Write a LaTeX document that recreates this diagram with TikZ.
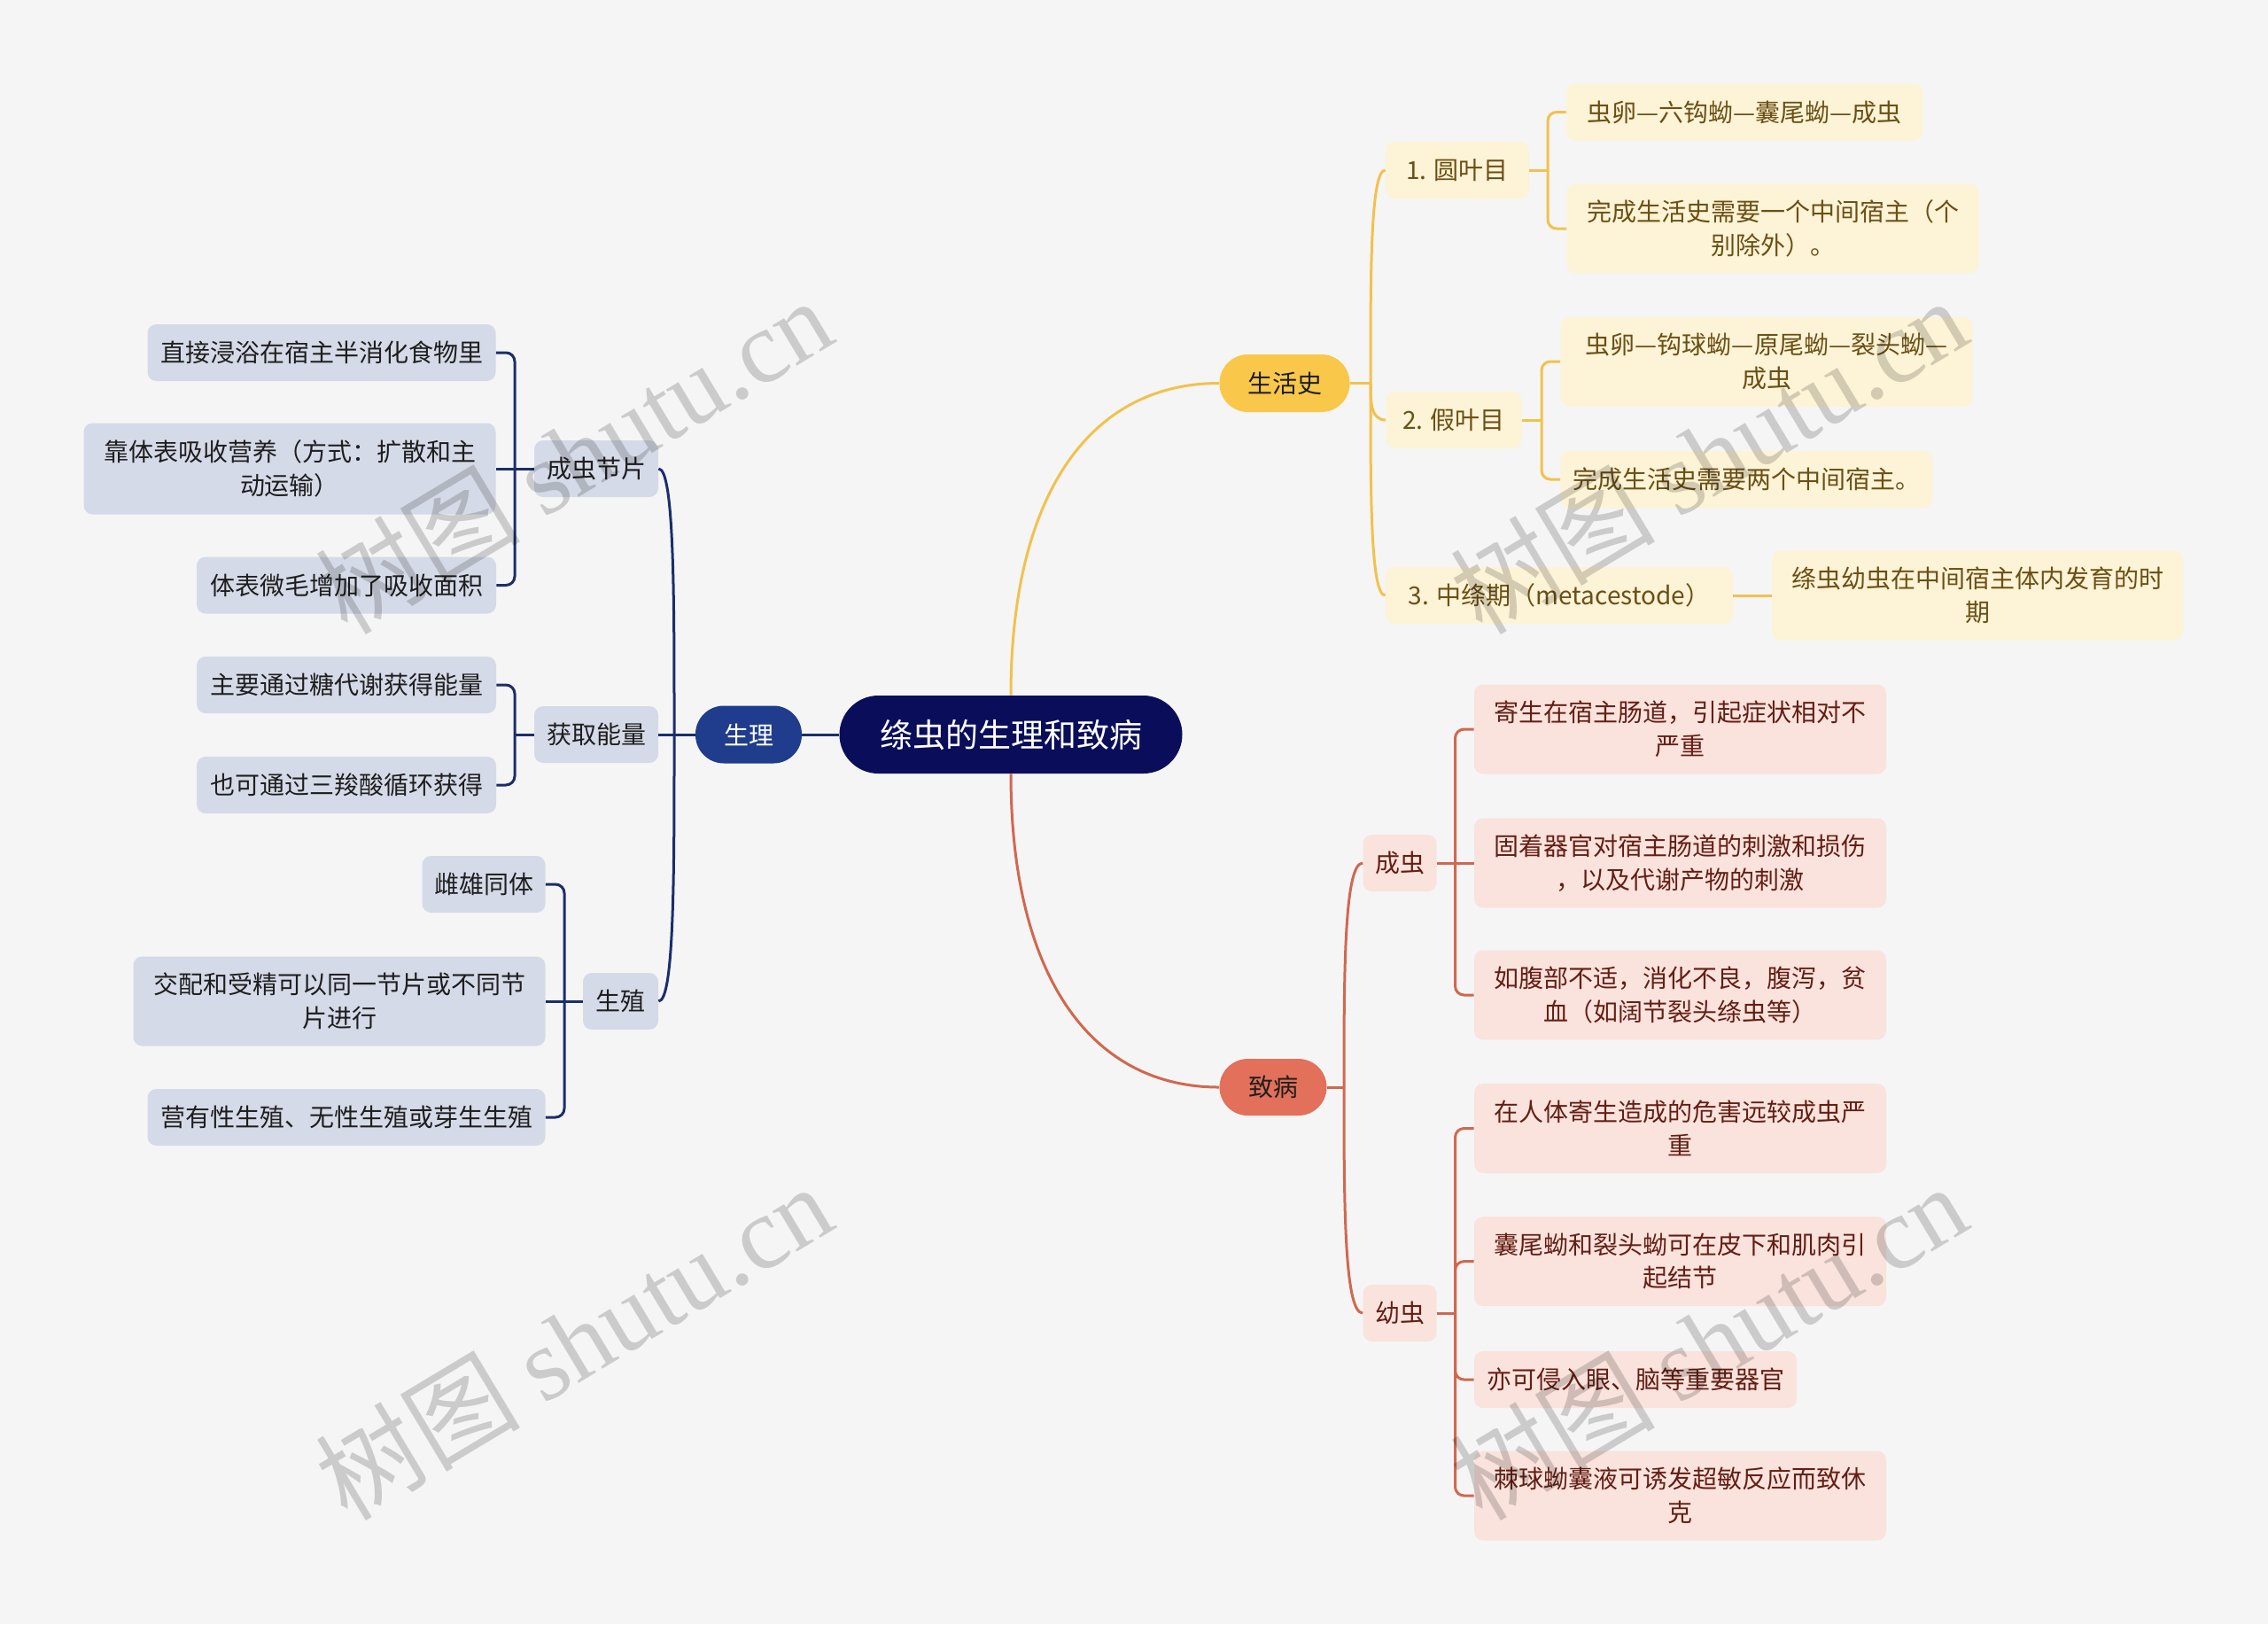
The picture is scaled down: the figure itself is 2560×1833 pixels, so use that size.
\documentclass[tikz,border=0pt]{standalone}
\usepackage{fontspec}
\setmainfont{Noto Sans CJK SC}
\newfontfamily\wmfont{Liberation Serif}
\usetikzlibrary{calc}
\definecolor{bgc}{HTML}{F5F5F5}
\definecolor{rootc}{HTML}{0A0E5A}
\definecolor{navy}{HTML}{1F3D8C}
\definecolor{navyline}{HTML}{1B2E6B}
\definecolor{lfill}{HTML}{D5DAE8}
\definecolor{ltext}{HTML}{1E1E1E}
\definecolor{yel}{HTML}{F9C84A}
\definecolor{yelline}{HTML}{F2C14E}
\definecolor{yfill}{HTML}{FDF3D6}
\definecolor{ytext}{HTML}{6B4F14}
\definecolor{redc}{HTML}{E2705A}
\definecolor{redline}{HTML}{D0684F}
\definecolor{pfill}{HTML}{FAE3DD}
\definecolor{ptext}{HTML}{641E14}
\tikzset{
  hone/.style={minimum height=32pt},
  htwo/.style={minimum height=50.5pt},
  base/.style={inner sep=0pt, align=center, font=\fontsize{14pt}{18.8pt}\selectfont},
  rootbox/.style={base, fill=rootc, text=white, rounded corners=22pt, font=\fontsize{18.5pt}{22pt}\selectfont},
  mainL/.style={base, fill=navy, text=white, rounded corners=16pt},
  mainY/.style={base, fill=yel, text=ltext, rounded corners=16pt},
  mainR/.style={base, fill=redc, text=ltext, rounded corners=16pt},
  boxL/.style={base, fill=lfill, text=ltext, rounded corners=5pt},
  boxY/.style={base, fill=yfill, text=ytext, rounded corners=5pt},
  boxR/.style={base, fill=pfill, text=ptext, rounded corners=5pt},
  lnL/.style={draw=navyline, line width=1.5pt},
  lnY/.style={draw=yelline, line width=1.5pt},
  lnR/.style={draw=redline, line width=1.5pt},
  brk/.style={rounded corners=5pt},
  wm/.style={text=black, text opacity=0.17, rotate=31, font=\fontsize{58pt}{60pt}\selectfont}
}
\begin{document}
\begin{tikzpicture}[x=0.5pt,y=-0.5pt]
\fill[bgc] (0,0) rectangle (2560,1833);
\useasboundingbox (0,0) rectangle (2560,1833);

% root and main branches
\node[rootbox, minimum width=193.5pt, minimum height=44pt] (root) at (1141,829) {绦虫的生理和致病};
\node[mainL, minimum width=60pt, minimum height=32.5pt] (sl) at (845,829) {生理};
\node[mainY, minimum width=73.5pt, minimum height=32.5pt] (sh) at (1450,432.5) {生活史};
\node[mainR, minimum width=60.5pt, hone] (zb) at (1437,1227) {致病};

% left second level
\node[boxL, minimum width=70pt, hone] (cj) at (673,529) {成虫节片};
\node[boxL, minimum width=70pt, hone] (hq) at (673,829) {获取能量};
\node[boxL, minimum width=42.5pt, hone] (sz) at (700.5,1130) {生殖};

% left leaves
\node[boxL, minimum width=196.5pt, hone] (a1) at (363,398) {直接浸浴在宿主半消化食物里};
\node[boxL, minimum width=232.5pt, minimum height=51.5pt] (a2) at (327,529) {靠体表吸收营养（方式：扩散和主\\动运输）};
\node[boxL, minimum width=169pt, hone] (a3) at (391,660.5) {体表微毛增加了吸收面积};
\node[boxL, minimum width=169pt, hone] (b1) at (391,773) {主要通过糖代谢获得能量};
\node[boxL, minimum width=169pt, hone] (b2) at (391,886) {也可通过三羧酸循环获得};
\node[boxL, minimum width=69.5pt, hone] (c1) at (546,998) {雌雄同体};
\node[boxL, minimum width=232.5pt, htwo] (c2) at (383,1130) {交配和受精可以同一节片或不同节\\片进行};
\node[boxL, minimum width=224.5pt, hone] (c3) at (391,1261) {营有性生殖、无性生殖或芽生生殖};

% right top second level
\node[boxY, minimum width=81pt, hone] (y1) at (1645,192) {1. 圆叶目};
\node[boxY, minimum width=76.5pt, hone] (y2) at (1641,474) {2. 假叶目};
\node[boxY, minimum width=196pt, hone] (y3) at (1760,672) {3. 中绦期（metacestode）};
\node[boxY, minimum width=201pt, hone] (y1a) at (1969,126.5) {虫卵—六钩蚴—囊尾蚴—成虫};
\node[boxY, minimum width=232.5pt, htwo] (y1b) at (2001,258) {完成生活史需要一个中间宿主（个\\别除外）。};
\node[boxY, minimum width=232.5pt, htwo] (y2a) at (1994,408) {虫卵—钩球蚴—原尾蚴—裂头蚴—\\成虫};
\node[boxY, minimum width=210pt, hone] (y2b) at (1971.5,541) {完成生活史需要两个中间宿主。};
\node[boxY, minimum width=232pt, htwo] (y3a) at (2232,672) {绦虫幼虫在中间宿主体内发育的时\\期};

% right bottom
\node[boxR, minimum width=41.5pt, hone] (z1) at (1580,974) {成虫};
\node[boxR, minimum width=41.5pt, hone] (z2) at (1580,1482) {幼虫};
\node[boxR, minimum width=232.5pt, htwo] (z1a) at (1896.5,823) {寄生在宿主肠道，引起症状相对不\\严重};
\node[boxR, minimum width=232.5pt, htwo] (z1b) at (1896.5,974) {固着器官对宿主肠道的刺激和损伤\\，以及代谢产物的刺激};
\node[boxR, minimum width=232.5pt, htwo] (z1c) at (1896.5,1123) {如腹部不适，消化不良，腹泻，贫\\血（如阔节裂头绦虫等）};
\node[boxR, minimum width=232.5pt, htwo] (z2a) at (1896.5,1273.5) {在人体寄生造成的危害远较成虫严\\重};
\node[boxR, minimum width=232.5pt, htwo] (z2b) at (1896.5,1423.6) {囊尾蚴和裂头蚴可在皮下和肌肉引\\起结节};
\node[boxR, minimum width=182pt, hone] (z2c) at (1846,1557) {亦可侵入眼、脑等重要器官};
\node[boxR, minimum width=232.5pt, htwo] (z2d) at (1896.5,1688) {棘球蚴囊液可诱发超敏反应而致休\\克};

% junction coordinates
\coordinate (jL) at (761,829);
\coordinate (jS) at (1547,432.5);
\coordinate (jZ) at (1517,1227);
\coordinate (kA) at (581,529);
\coordinate (kB) at (581,829);
\coordinate (kC) at (637,1130);
\coordinate (kD) at (1747,192);
\coordinate (kE) at (1740,474);
\coordinate (kF) at (1642.5,974);
\coordinate (kG) at (1642.5,1482);

% root connectors
\draw[lnL] (root.west) -- (sl.east);
\draw[lnY] (root.north) .. controls +(0,-225) and +(-147,0) .. (sh.west);
\draw[lnR] (root.south) .. controls +(0,225) and +(-147,0) .. (zb.west);

% 生理 branch
\draw[lnL] (sl.west) -- (jL) -- (hq.east);
\draw[lnL] (jL) .. controls +(0,-150) and +(18,0) .. (cj.east);
\draw[lnL] (jL) .. controls +(0,150) and +(18,0) .. (sz.east);
\draw[lnL] (cj.west) -- (kA);
\draw[lnL, brk] (kA) |- (a1.east);
\draw[lnL] (kA) -- (a2.east);
\draw[lnL, brk] (kA) |- (a3.east);
\draw[lnL] (hq.west) -- (kB);
\draw[lnL, brk] (kB) |- (b1.east);
\draw[lnL, brk] (kB) |- (b2.east);
\draw[lnL] (sz.west) -- (kC);
\draw[lnL, brk] (kC) |- (c1.east);
\draw[lnL] (kC) -- (c2.east);
\draw[lnL, brk] (kC) |- (c3.east);

% 生活史 branch
\draw[lnY] (sh.east) -- (jS);
\draw[lnY] (jS) .. controls +(0,-120) and +(-17,0) .. (y1.west);
\draw[lnY] (jS) .. controls +(0,21) and +(-17,0) .. (y2.west);
\draw[lnY] (jS) .. controls +(0,120) and +(-17,0) .. (y3.west);
\draw[lnY] (y1.east) -- (kD);
\draw[lnY, brk] (kD) |- (y1a.west);
\draw[lnY, brk] (kD) |- (y1b.west);
\draw[lnY] (y2.east) -- (kE);
\draw[lnY, brk] (kE) |- (y2a.west);
\draw[lnY, brk] (kE) |- (y2b.west);
\draw[lnY] (y3.east) -- (y3a.west);

% 致病 branch
\draw[lnR] (zb.east) -- (jZ);
\draw[lnR] (jZ) .. controls +(0,-127) and +(-21,0) .. (z1.west);
\draw[lnR] (jZ) .. controls +(0,127) and +(-21,0) .. (z2.west);
\draw[lnR] (z1.east) -- (kF);
\draw[lnR, brk] (kF) |- (z1a.west);
\draw[lnR] (kF) -- (z1b.west);
\draw[lnR, brk] (kF) |- (z1c.west);
\draw[lnR] (z2.east) -- (kG);
\draw[lnR, brk] (kG) |- (z2a.west);
\draw[lnR, brk] (kG) |- (z2b.west);
\draw[lnR, brk] (kG) |- (z2c.west);
\draw[lnR, brk] (kG) |- (z2d.west);

% watermarks
\node[wm] (w1) at (647,514) {树图 {\wmfont shutu.cn}};
\node[wm] (w2) at (647,1514) {树图 {\wmfont shutu.cn}};
\node[wm] (w3) at (1928,514) {树图 {\wmfont shutu.cn}};
\node[wm] (w4) at (1928,1514) {树图 {\wmfont shutu.cn}};
\end{tikzpicture}
\end{document}
